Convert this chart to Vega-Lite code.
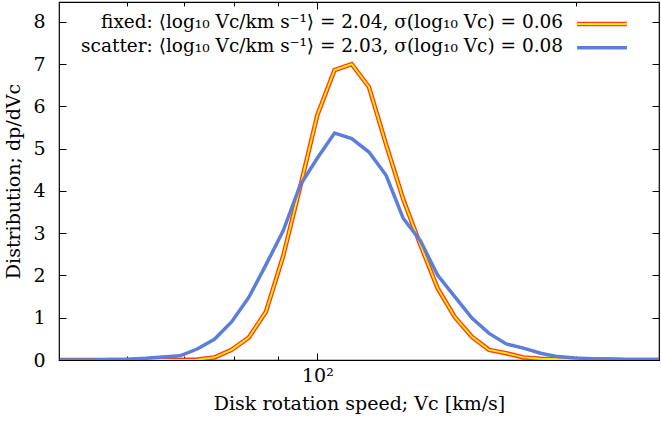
{
  "$schema": "https://vega.github.io/schema/vega-lite/v6.json",
  "autosize": "none",
  "padding": {"left": 59, "top": 2, "right": 2, "bottom": 61},
  "width": 600,
  "height": 358,
  "config": {
    "view": {"stroke": "black", "strokeWidth": 1.2},
    "font": "DejaVu Serif",
    "axis": {
      "domain": false, "grid": false, "tickColor": "black", "tickWidth": 1,
      "labelColor": "black", "titleColor": "black",
      "labelFont": "DejaVu Serif", "titleFont": "DejaVu Serif",
      "labelFontSize": 19, "titleFontSize": 19, "titleFontWeight": "normal"
    }
  },
  "data": {"values": [
    {"V": 50.12, "fixed": 0.0, "scatter": 0.0},
    {"V": 52.48, "fixed": 0.0, "scatter": 0.0},
    {"V": 54.95, "fixed": 0.0, "scatter": 0.0},
    {"V": 57.54, "fixed": 0.0, "scatter": 0.01},
    {"V": 60.26, "fixed": 0.0, "scatter": 0.02},
    {"V": 63.10, "fixed": 0.0, "scatter": 0.04},
    {"V": 66.07, "fixed": 0.0, "scatter": 0.07},
    {"V": 69.18, "fixed": 0.0, "scatter": 0.10},
    {"V": 72.44, "fixed": 0.01, "scatter": 0.26},
    {"V": 75.86, "fixed": 0.06, "scatter": 0.49},
    {"V": 79.43, "fixed": 0.24, "scatter": 0.90},
    {"V": 83.18, "fixed": 0.53, "scatter": 1.48},
    {"V": 87.10, "fixed": 1.14, "scatter": 2.25},
    {"V": 91.20, "fixed": 2.45, "scatter": 3.05},
    {"V": 95.50, "fixed": 4.10, "scatter": 4.14},
    {"V": 100.0, "fixed": 5.80, "scatter": 4.78},
    {"V": 104.71, "fixed": 6.86, "scatter": 5.37},
    {"V": 109.65, "fixed": 7.00, "scatter": 5.24},
    {"V": 114.82, "fixed": 6.46, "scatter": 4.92},
    {"V": 120.23, "fixed": 5.10, "scatter": 4.37},
    {"V": 125.89, "fixed": 3.80, "scatter": 3.35},
    {"V": 131.83, "fixed": 2.72, "scatter": 2.82},
    {"V": 138.04, "fixed": 1.70, "scatter": 2.01},
    {"V": 144.54, "fixed": 1.02, "scatter": 1.50},
    {"V": 151.36, "fixed": 0.55, "scatter": 0.99},
    {"V": 158.49, "fixed": 0.24, "scatter": 0.63},
    {"V": 165.96, "fixed": 0.16, "scatter": 0.38},
    {"V": 173.78, "fixed": 0.06, "scatter": 0.28},
    {"V": 181.97, "fixed": 0.03, "scatter": 0.16},
    {"V": 190.55, "fixed": 0.02, "scatter": 0.08},
    {"V": 199.53, "fixed": 0.01, "scatter": 0.05},
    {"V": 208.93, "fixed": 0.01, "scatter": 0.03},
    {"V": 218.78, "fixed": 0.01, "scatter": 0.02},
    {"V": 229.09, "fixed": 0.0, "scatter": 0.01},
    {"V": 239.88, "fixed": 0.0, "scatter": 0.01},
    {"V": 251.19, "fixed": 0.0, "scatter": 0.01}
  ]},
  "layer": [
    {
      "mark": {"type": "line", "color": "#ff3b1f", "strokeWidth": 4.5, "clip": true},
      "encoding": {
        "x": {"field": "V", "type": "quantitative",
              "scale": {"type": "log", "domain": [50, 250], "nice": false},
              "axis": {"orient": "bottom", "values": [60, 70, 80, 90, 100, 200],
                       "labelExpr": "datum.value == 100 ? '10²' : ''",
                       "tickSize": {"condition": {"test": "datum.value == 100", "value": -7}, "value": -4},
                       "labelPadding": 13,
                       "title": "Disk rotation speed; Vc [km/s]", "titlePadding": 9}},
        "y": {"field": "fixed", "type": "quantitative",
              "scale": {"domain": [0, 8.47], "nice": false},
              "axis": {"orient": "left", "values": [0, 1, 2, 3, 4, 5, 6, 7, 8],
                       "tickSize": -7, "labelPadding": 21,
                       "title": "Distribution; dp/dVc", "titlePadding": 9}}
      }
    },
    {
      "mark": {"type": "line", "color": "#ffee00", "strokeWidth": 1.8, "clip": true},
      "encoding": {
        "x": {"field": "V", "type": "quantitative", "axis": null},
        "y": {"field": "fixed", "type": "quantitative", "axis": null}
      }
    },
    {
      "mark": {"type": "line", "color": "#5b7fd9", "strokeWidth": 3.5, "clip": true},
      "encoding": {
        "x": {"field": "V", "type": "quantitative", "axis": null},
        "y": {"field": "scatter", "type": "quantitative", "axis": null}
      }
    },
    {
      "mark": {"type": "line", "opacity": 0},
      "encoding": {
        "x": {"field": "V", "type": "quantitative",
              "axis": {"orient": "top", "values": [60, 70, 80, 90, 100, 200], "labels": false, "title": null,
                       "tickSize": {"condition": {"test": "datum.value == 100", "value": -7}, "value": -4}}},
        "y": {"field": "scatter", "type": "quantitative",
              "axis": {"orient": "right", "values": [0, 1, 2, 3, 4, 5, 6, 7, 8], "labels": false, "title": null, "tickSize": -7}}
      }
    },
    {
      "data": {"values": [
        {"label": "fixed:  ⟨log₁₀ Vc/km s⁻¹⟩ = 2.04,  σ(log₁₀ Vc) = 0.06", "series": "fixed"},
        {"label": "scatter:  ⟨log₁₀ Vc/km s⁻¹⟩ = 2.03,  σ(log₁₀ Vc) = 0.08", "series": "scatter"}
      ]},
      "transform": [{"filter": "datum.series == 'fixed'"}],
      "mark": {"type": "text", "align": "right", "baseline": "alphabetic", "fontSize": 18.5, "font": "DejaVu Serif", "color": "black"},
      "encoding": {
        "x": {"datum": 193.3, "type": "quantitative", "axis": null},
        "y": {"datum": 7.85, "type": "quantitative", "axis": null},
        "text": {"field": "label"}
      }
    },
    {
      "data": {"values": [
        {"label": "fixed:  ⟨log₁₀ Vc/km s⁻¹⟩ = 2.04,  σ(log₁₀ Vc) = 0.06", "series": "fixed"},
        {"label": "scatter:  ⟨log₁₀ Vc/km s⁻¹⟩ = 2.03,  σ(log₁₀ Vc) = 0.08", "series": "scatter"}
      ]},
      "transform": [{"filter": "datum.series == 'scatter'"}],
      "mark": {"type": "text", "align": "right", "baseline": "alphabetic", "fontSize": 18.5, "font": "DejaVu Serif", "color": "black"},
      "encoding": {
        "x": {"datum": 193.3, "type": "quantitative", "axis": null},
        "y": {"datum": 7.28, "type": "quantitative", "axis": null},
        "text": {"field": "label"}
      }
    },
    {
      "data": {"values": [{"series": "fixed"}]},
      "mark": {"type": "rule", "color": "#ff3b1f", "strokeWidth": 4.5},
      "encoding": {
        "x": {"datum": 200.7, "type": "quantitative", "axis": null},
        "x2": {"datum": 229.4},
        "y": {"datum": 7.95, "type": "quantitative", "axis": null}
      }
    },
    {
      "data": {"values": [{"series": "fixed"}]},
      "mark": {"type": "rule", "color": "#ffee00", "strokeWidth": 1.8},
      "encoding": {
        "x": {"datum": 200.7, "type": "quantitative", "axis": null},
        "x2": {"datum": 229.4},
        "y": {"datum": 7.95, "type": "quantitative", "axis": null}
      }
    },
    {
      "data": {"values": [{"series": "scatter"}]},
      "mark": {"type": "rule", "color": "#5b7fd9", "strokeWidth": 3.5},
      "encoding": {
        "x": {"datum": 200.7, "type": "quantitative", "axis": null},
        "x2": {"datum": 229.4},
        "y": {"datum": 7.385, "type": "quantitative", "axis": null}
      }
    }
  ],
  "resolve": {"axis": {"x": "independent", "y": "independent"}}
}
